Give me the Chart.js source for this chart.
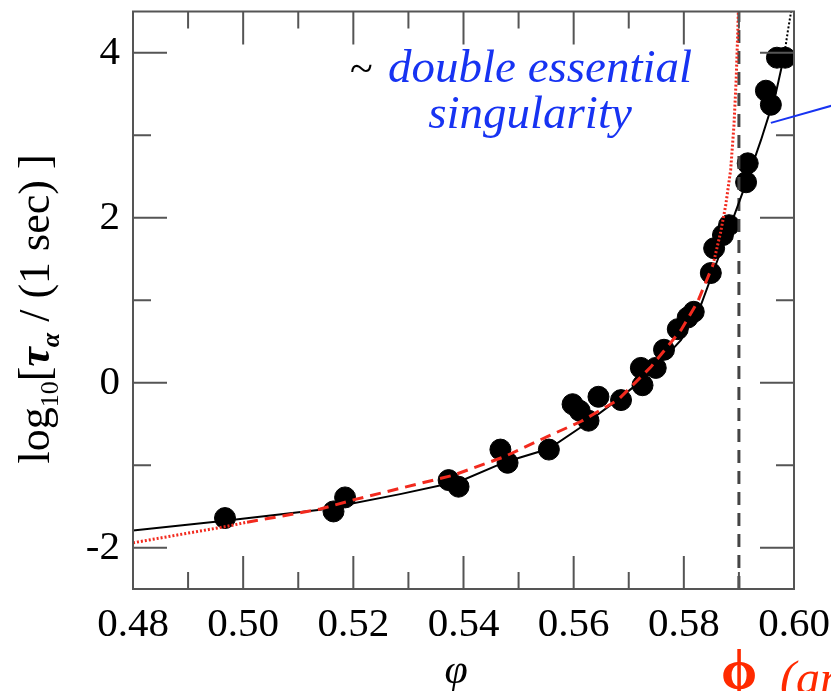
<!DOCTYPE html>
<html>
<head>
<meta charset="utf-8">
<script src="https://cdn.jsdelivr.net/npm/chart.js@4.4.0/dist/chart.umd.min.js"></script>
<style>
  html, body { margin: 0; padding: 0; background: #fff; }
  canvas { display: block; }
</style>
</head>
<body>
<canvas id="tauChart" width="831" height="691"></canvas>
<script>
// measured points: packing fraction vs log10 relaxation time
var phiData = [0.4967, 0.5164, 0.5185, 0.5373, 0.5391, 0.5467, 0.5480, 0.5555,
  0.5598, 0.5611, 0.5627, 0.5645, 0.5686, 0.5722, 0.5725, 0.5749, 0.5764, 0.5789,
  0.5807, 0.5818, 0.5849, 0.5855, 0.5871, 0.5882, 0.5913, 0.5916, 0.5949, 0.5958,
  0.5969, 0.5984];
var logTauData = [-1.64, -1.56, -1.39, -1.18, -1.26, -0.81, -0.97, -0.81,
  -0.26, -0.34, -0.46, -0.17, -0.21, 0.18, -0.03, 0.18, 0.40, 0.65,
  0.79, 0.86, 1.33, 1.63, 1.79, 1.91, 2.43, 2.66, 3.54, 3.37,
  3.94, 3.94];

// double essential singularity fit (black), dotted past the last point
var fitPhi = [0.4800, 0.4971, 0.5140, 0.5285, 0.5395, 0.5476, 0.5555, 0.5613,
  0.5685, 0.5740, 0.5795, 0.5831, 0.5858, 0.5885, 0.5913, 0.5940, 0.5967, 0.5982,
  0.5989, 0.5995];
var fitLogTau = [-1.79, -1.67, -1.54, -1.35, -1.19, -0.96, -0.80, -0.54,
  -0.18, 0.12, 0.52, 0.94, 1.43, 1.91, 2.42, 2.94, 3.51, 3.96,
  4.27, 4.51];
var fitDottedFrom = 0.5982;

// VFT fit (red): dotted outside the data range, dashed inside
var vftPhi = [0.4800, 0.4885, 0.4971, 0.5007, 0.5067, 0.5140, 0.5200, 0.5285,
  0.5382, 0.5473, 0.5553, 0.5613, 0.5680, 0.5740, 0.5795, 0.5825, 0.5853, 0.5867,
  0.5876, 0.5885, 0.5891, 0.5895, 0.5898, 0.5899];
var vftLogTau = [-1.94, -1.84, -1.74, -1.69, -1.62, -1.53, -1.42, -1.28,
  -1.12, -0.90, -0.65, -0.47, -0.21, 0.19, 0.64, 0.98, 1.43, 1.83,
  2.15, 2.58, 3.12, 3.67, 4.27, 4.51];
var vftDashFrom = 0.5007;
var vftDashTo = 0.5853;

var phiStar = 0.59;

var xMajor = [0.48, 0.50, 0.52, 0.54, 0.56, 0.58, 0.60];
var xMinor = [0.49, 0.51, 0.53, 0.55, 0.57, 0.59];
var yMajor = [-2, 0, 2, 4];
var yMinor = [-1, 1, 3];

var serif = '"Liberation Serif", "DejaVu Serif", serif';

function pts(xs, ys) {
  return xs.map(function(x, i) { return { x: x, y: ys[i] }; });
}

// frame with inward ticks on all four sides
var frameTicks = {
  id: 'frameTicks',
  afterDatasetsDraw: function(chart) {
    var ctx = chart.ctx, a = chart.chartArea;
    var xs = chart.scales.x, ys = chart.scales.y;
    ctx.save();
    ctx.strokeStyle = '#555';
    ctx.lineWidth = 2;
    ctx.beginPath();
    xMajor.concat(xMinor).forEach(function(v) {
      var p = xs.getPixelForValue(v);
      var len = xMajor.indexOf(v) >= 0 ? 33 : 17;
      ctx.moveTo(p, a.bottom); ctx.lineTo(p, a.bottom - len);
      ctx.moveTo(p, a.top); ctx.lineTo(p, a.top + len);
    });
    yMajor.concat(yMinor).forEach(function(v) {
      var p = ys.getPixelForValue(v);
      var len = yMajor.indexOf(v) >= 0 ? 34 : 18;
      ctx.moveTo(a.left, p); ctx.lineTo(a.left + len, p);
      ctx.moveTo(a.right, p); ctx.lineTo(a.right - len, p);
    });
    ctx.stroke();
    ctx.strokeRect(a.left, a.top, a.right - a.left, a.bottom - a.top);
    ctx.restore();
  }
};

// axis titles and the annotations
var labels = {
  id: 'labels',
  afterDraw: function(chart) {
    var ctx = chart.ctx;
    var xs = chart.scales.x, ys = chart.scales.y;
    ctx.save();

    // x title
    ctx.fillStyle = '#000';
    ctx.textAlign = 'center';
    ctx.textBaseline = 'alphabetic';
    ctx.font = 'italic 42px ' + serif;
    ctx.fillText('\u03c6', 456, 683);

    // y title with subscripts, rotated
    var parts = [
      { t: 'log', f: '44px ' + serif, dy: 0 },
      { t: '10', f: '26px ' + serif, dy: 9 },
      { t: '[', f: '44px ' + serif, dy: 0 },
      { t: '\u03c4', f: 'italic bold 44px ' + serif, dy: 0 },
      { t: '\u03b1', f: 'italic bold 26px ' + serif, dy: 10 },
      { t: ' / (1 sec) ]', f: '44px ' + serif, dy: 0 }
    ];
    var total = 0;
    parts.forEach(function(p) { ctx.font = p.f; p.w = ctx.measureText(p.t).width; total += p.w; });
    ctx.translate(49, 309);
    ctx.rotate(-Math.PI / 2);
    ctx.textAlign = 'left';
    var cx = -total / 2;
    parts.forEach(function(p) {
      ctx.font = p.f;
      ctx.fillText(p.t, cx, p.dy);
      cx += p.w;
    });
    ctx.setTransform(1, 0, 0, 1, 0, 0);

    // annotation text
    ctx.textAlign = 'left';
    ctx.font = '42px ' + serif;
    ctx.fillStyle = '#000';
    ctx.fillText('~', 350, 82);
    ctx.fillStyle = '#1733f2';
    ctx.font = 'italic 47px ' + serif;
    ctx.fillText('double essential', 388, 82);
    ctx.textAlign = 'center';
    ctx.fillText('singularity', 530, 128);

    // pointer line toward the fit
    ctx.strokeStyle = '#1733f2';
    ctx.lineWidth = 2;
    ctx.beginPath();
    ctx.moveTo(xs.getPixelForValue(0.5958), ys.getPixelForValue(3.15));
    ctx.lineTo(xs.getPixelForValue(0.6080), ys.getPixelForValue(3.38));
    ctx.stroke();

    // red label cut by the bottom edge
    ctx.fillStyle = '#ff2a00';
    ctx.textAlign = 'left';
    ctx.font = 'bold 58px ' + serif;
    ctx.fillText('\u03d5', 721, 689);
    ctx.font = 'italic 48px ' + serif;
    ctx.fillText('(an', 780, 694);
    ctx.restore();
  }
};

var ctx = document.getElementById('tauChart').getContext('2d');
var tauChart = new Chart(ctx, {
  type: 'scatter',
  data: {
    datasets: [
      {
        label: 'phi*',
        data: [{ x: phiStar, y: -2.5 }, { x: phiStar, y: 4.5 }],
        showLine: true,
        borderColor: '#444',
        borderWidth: 3,
        borderDash: [13, 8],
        pointRadius: 0,
        order: 3
      },
      {
        label: 'fit',
        data: pts(fitPhi, fitLogTau),
        showLine: true,
        borderColor: '#000',
        borderWidth: 2,
        pointRadius: 0,
        segment: {
          borderDash: function(c) { return c.p0.parsed.x >= fitDottedFrom ? [2, 2] : undefined; }
        },
        order: 2
      },
      {
        label: 'vft',
        data: pts(vftPhi, vftLogTau),
        showLine: true,
        borderColor: '#f22a1e',
        borderWidth: 3,
        pointRadius: 0,
        segment: {
          borderDash: function(c) {
            if (c.p1.parsed.x <= vftDashFrom || c.p0.parsed.x >= vftDashTo) return [2, 2];
            return [11, 7];
          }
        },
        order: 1
      },
      {
        label: 'data',
        data: pts(phiData, logTauData),
        showLine: false,
        backgroundColor: '#000',
        borderColor: '#000',
        pointRadius: 10.5,
        order: 5
      }
    ]
  },
  options: {
    responsive: false,
    animation: false,
    layout: { padding: { top: 10, right: 37, left: 0, bottom: 0 } },
    plugins: { legend: { display: false }, tooltip: { enabled: false } },
    scales: {
      x: {
        type: 'linear',
        min: 0.48,
        max: 0.60,
        grid: { display: false, drawTicks: false },
        border: { display: false },
        afterBuildTicks: function(s) { s.ticks = xMajor.map(function(v) { return { value: v }; }); },
        afterFit: function(s) {
          s.height = 102;
          s.paddingLeft = 0; s.paddingRight = 0;
        },
        ticks: {
          padding: 12,
          color: '#000',
          font: { family: serif, size: 41 },
          maxRotation: 0,
          callback: function(v) { return v.toFixed(2); }
        }
      },
      y: {
        type: 'linear',
        min: -2.5,
        max: 4.5,
        grid: { display: false, drawTicks: false },
        border: { display: false },
        afterBuildTicks: function(s) { s.ticks = yMajor.map(function(v) { return { value: v }; }); },
        afterFit: function(s) {
          s.width = 133;
          s.paddingTop = 0; s.paddingBottom = 0;
        },
        ticks: {
          padding: 13,
          color: '#000',
          font: { family: serif, size: 41 },
          callback: function(v) { return String(v); }
        }
      }
    }
  },
  plugins: [frameTicks, labels]
});
</script>
</body>
</html>
